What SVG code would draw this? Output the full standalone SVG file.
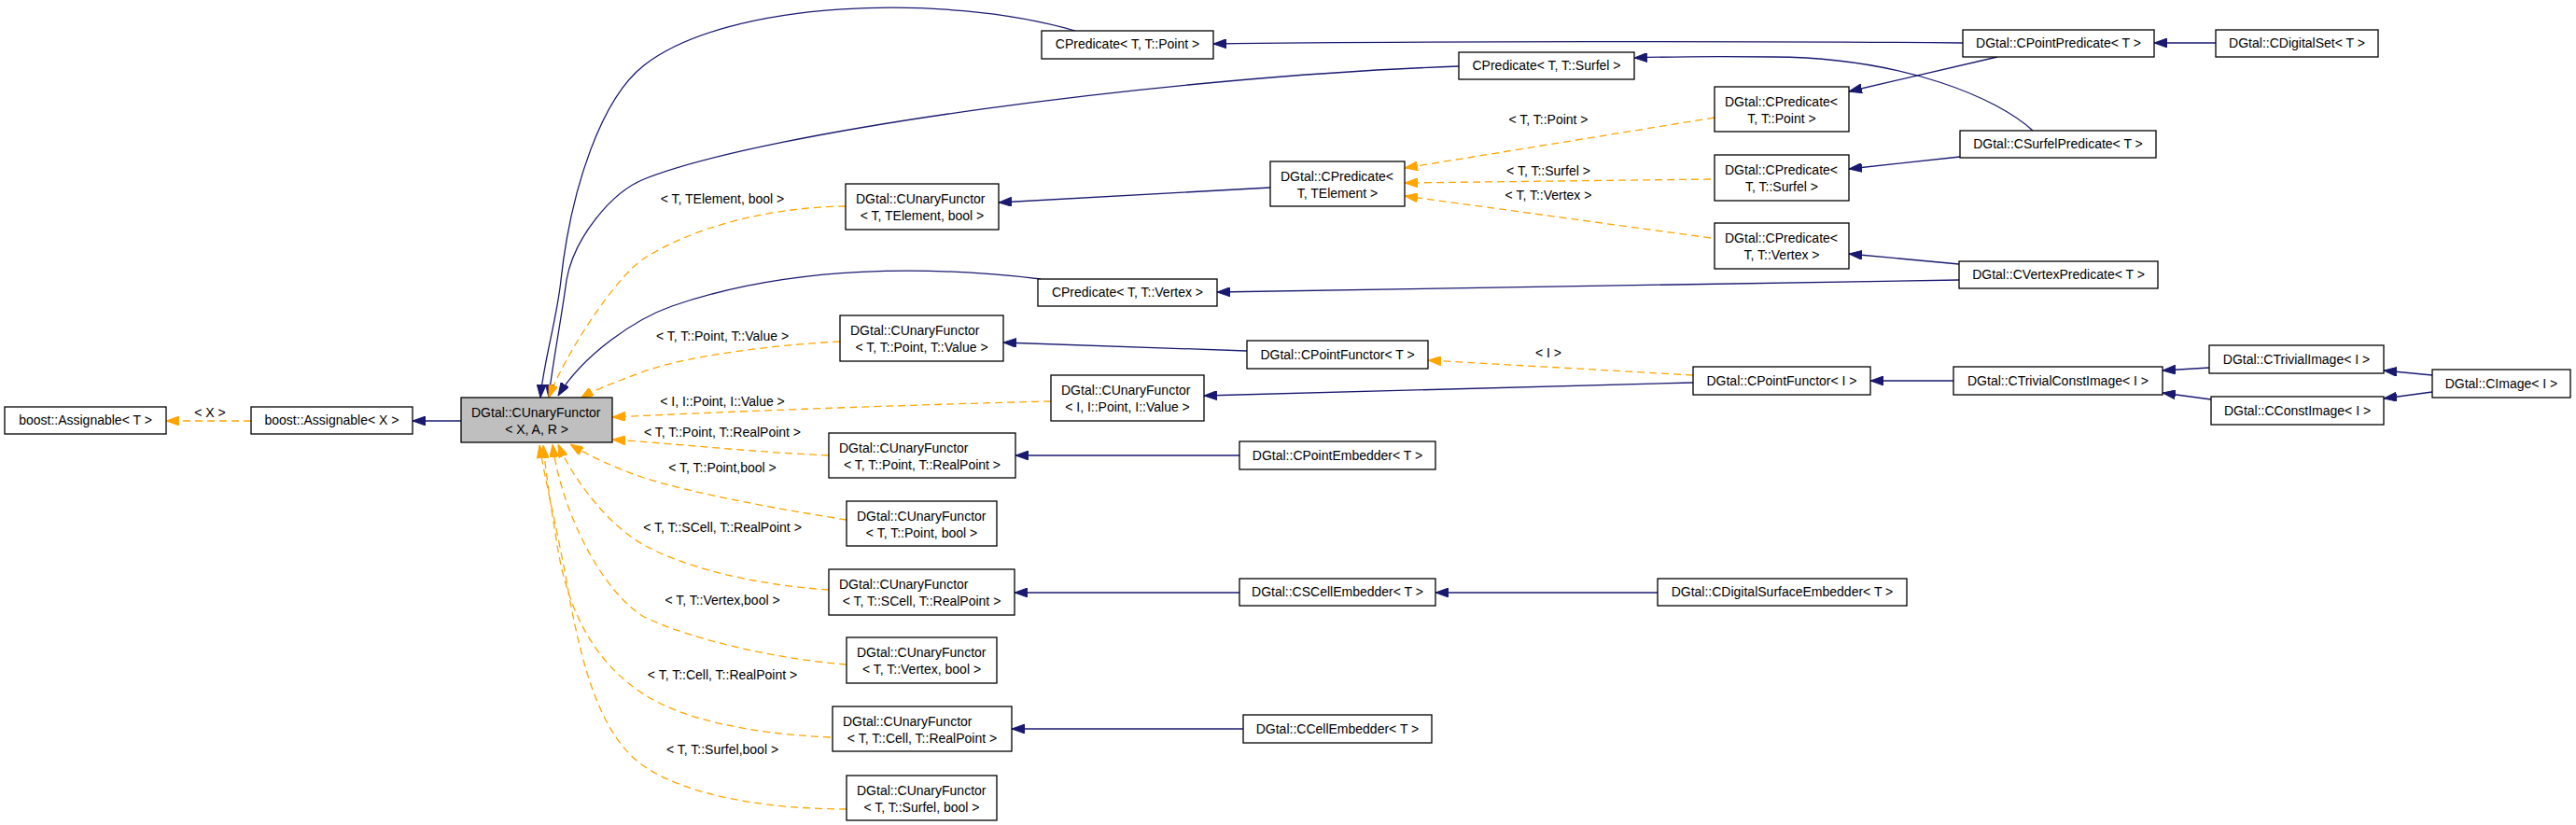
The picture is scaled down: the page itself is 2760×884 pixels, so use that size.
<svg xmlns="http://www.w3.org/2000/svg" width="2760" height="884" viewBox="0 0 2760 884">
<defs>
<style>
.n rect{fill:#fff;stroke:#000;stroke-width:1.3}
.n.g rect{fill:#bfbfbf}
text{font-family:"Liberation Sans",Arial,sans-serif;font-size:14px;fill:#000}
.c{text-anchor:middle}
.e path{fill:none;stroke:#191970;stroke-width:1.3}
.e path.b{marker-end:url(#ab)}
.e path.o{stroke:#ffa500;stroke-dasharray:8,5;marker-end:url(#ao)}
</style>
<marker id="ab" viewBox="0 0 14 10" refX="14" refY="5" markerWidth="14" markerHeight="10" markerUnits="userSpaceOnUse" orient="auto">
<path d="M0,0 L14,5 L0,10 z" fill="#191970" stroke="#191970" stroke-width="1"/>
</marker>
<marker id="ao" viewBox="0 0 14 10" refX="14" refY="5" markerWidth="14" markerHeight="10" markerUnits="userSpaceOnUse" orient="auto">
<path d="M0,0 L14,5 L0,10 z" fill="#ffa500" stroke="#ffa500" stroke-width="1"/>
</marker>
</defs>
<rect width="2760" height="884" fill="#fff"/>
<g id="edges" class="e">
<path class="o" d="M269,451 L178,451"/>
<path class="b" d="M494,451 L442,451"/>
<path class="b" d="M1152,33 C1010,-8 780,0 690,70 C645,105 612,200 601,300 C597,340 582,390 579,426"/>
<path class="b" d="M1563,71 C1250,82 820,140 690,192 C655,206 615,255 607,300 C601,345 591,395 588,426"/>
<path class="b" d="M1115,299 C1000,285 850,283 720,328 C680,342 625,380 598,424"/>
<path class="o" d="M906,221 C820,222 740,245 690,277 C660,296 605,380 588,426"/>
<path class="o" d="M900,366 C820,370 730,383 690,398 C660,409 636,418 622,427"/>
<path class="o" d="M1126,430 C1000,433 800,440 656,447"/>
<path class="o" d="M888,488 C800,484 720,475 656,471"/>
<path class="o" d="M907,557 C830,545 740,528 690,512 C660,502 630,488 611,476"/>
<path class="o" d="M888,632 C800,626 730,606 690,584 C650,562 612,510 598,476"/>
<path class="o" d="M907,712 C830,706 740,685 690,661 C640,630 600,540 592,476"/>
<path class="o" d="M890,790 C800,786 730,770 690,744 C640,712 610,660 598,590 C593,560 585,510 582,477"/>
<path class="o" d="M907,867 C830,867 740,855 690,821 C645,790 625,720 610,640 C600,580 585,520 578,477"/>
<path class="b" d="M1361,201 L1070,217"/>
<path class="o" d="M1837,126 L1505,180"/>
<path class="o" d="M1833,192 L1505,196"/>
<path class="o" d="M1833,255 L1505,210"/>
<path class="b" d="M2103,46 C1900,44 1500,44 1300,47"/>
<path class="b" d="M2140,61 L1981,98"/>
<path class="b" d="M2178,140 C2140,105 2040,62 1900,61 C1830,60 1780,61 1751,62"/>
<path class="b" d="M2100,168 L1981,181"/>
<path class="b" d="M2099,283 L1981,272"/>
<path class="b" d="M2099,300 L1304,313"/>
<path class="b" d="M1336,376 L1075,367"/>
<path class="o" d="M1814,402 L1530,386"/>
<path class="b" d="M1814,410 L1290,424"/>
<path class="b" d="M2093,408 L2004,408"/>
<path class="b" d="M2367,394 L2317,397"/>
<path class="b" d="M2369,428 L2317,421"/>
<path class="b" d="M2606,402 L2554,397"/>
<path class="b" d="M2606,420 L2554,427"/>
<path class="b" d="M1328,488 L1088,488"/>
<path class="b" d="M1328,635 L1087,635"/>
<path class="b" d="M1776,635 L1538,635"/>
<path class="b" d="M1332,781 L1084,781"/>
<path class="b" d="M2374,46 L2308,46"/>
<text class="c" x="225" y="447">&lt; X &gt;</text>
<text class="c" x="774" y="218">&lt; T, TElement, bool &gt;</text>
<text class="c" x="774" y="365">&lt; T, T::Point, T::Value &gt;</text>
<text class="c" x="774" y="435">&lt; I, I::Point, I::Value &gt;</text>
<text class="c" x="774" y="468">&lt; T, T::Point, T::RealPoint &gt;</text>
<text class="c" x="774" y="506">&lt; T, T::Point,bool &gt;</text>
<text class="c" x="774" y="570">&lt; T, T::SCell, T::RealPoint &gt;</text>
<text class="c" x="774" y="648">&lt; T, T::Vertex,bool &gt;</text>
<text class="c" x="774" y="728">&lt; T, T::Cell, T::RealPoint &gt;</text>
<text class="c" x="774" y="808">&lt; T, T::Surfel,bool &gt;</text>
<text class="c" x="1659" y="133">&lt; T, T::Point &gt;</text>
<text class="c" x="1659" y="188">&lt; T, T::Surfel &gt;</text>
<text class="c" x="1659" y="214">&lt; T, T::Vertex &gt;</text>
<text class="c" x="1659" y="383">&lt; I &gt;</text>
</g>
<g id="n_assignT" class="n"><rect x="5" y="436" width="173" height="29"/><text class="c" x="91.5" y="455">boost::Assignable&lt; T &gt;</text></g>
<g id="n_assignX" class="n"><rect x="269" y="436" width="173" height="29"/><text class="c" x="355.5" y="455">boost::Assignable&lt; X &gt;</text></g>
<g id="n_cuf" class="n g"><rect x="494" y="426" width="162" height="48"/><text x="505" y="447">DGtal::CUnaryFunctor</text><text class="c" x="575" y="465">&lt; X, A, R &gt;</text></g>
<g id="n_cpredPoint" class="n"><rect x="1116" y="33" width="184" height="30"/><text class="c" x="1208" y="52">CPredicate&lt; T, T::Point &gt;</text></g>
<g id="n_cpredSurfel" class="n"><rect x="1563" y="56" width="188" height="29"/><text class="c" x="1657" y="75">CPredicate&lt; T, T::Surfel &gt;</text></g>
<g id="n_cufTElem" class="n"><rect x="906" y="197" width="164" height="49"/><text x="917" y="218">DGtal::CUnaryFunctor</text><text class="c" x="988" y="236">&lt; T, TElement, bool &gt;</text></g>
<g id="n_dcpredTElem" class="n"><rect x="1361" y="173" width="144" height="48"/><text x="1372" y="194">DGtal::CPredicate&lt;</text><text class="c" x="1433" y="212">T, TElement &gt;</text></g>
<g id="n_dcpredPoint" class="n"><rect x="1837" y="93" width="144" height="48"/><text x="1848" y="114">DGtal::CPredicate&lt;</text><text class="c" x="1909" y="132">T, T::Point &gt;</text></g>
<g id="n_dcpredSurfel" class="n"><rect x="1837" y="166" width="144" height="49"/><text x="1848" y="187">DGtal::CPredicate&lt;</text><text class="c" x="1909" y="205">T, T::Surfel &gt;</text></g>
<g id="n_dcpredVertex" class="n"><rect x="1837" y="239" width="144" height="49"/><text x="1848" y="260">DGtal::CPredicate&lt;</text><text class="c" x="1909" y="278">T, T::Vertex &gt;</text></g>
<g id="n_cpointpred" class="n"><rect x="2103" y="32" width="205" height="29"/><text class="c" x="2205.5" y="51">DGtal::CPointPredicate&lt; T &gt;</text></g>
<g id="n_cdigitalset" class="n"><rect x="2374" y="32" width="174" height="29"/><text class="c" x="2461" y="51">DGtal::CDigitalSet&lt; T &gt;</text></g>
<g id="n_csurfelpred" class="n"><rect x="2100" y="140" width="210" height="29"/><text class="c" x="2205" y="159">DGtal::CSurfelPredicate&lt; T &gt;</text></g>
<g id="n_cvertexpred" class="n"><rect x="2099" y="280" width="213" height="29"/><text class="c" x="2205.5" y="299">DGtal::CVertexPredicate&lt; T &gt;</text></g>
<g id="n_cpredVertex" class="n"><rect x="1112" y="299" width="192" height="29"/><text class="c" x="1208" y="318">CPredicate&lt; T, T::Vertex &gt;</text></g>
<g id="n_cufPV" class="n"><rect x="900" y="338" width="175" height="49"/><text x="911" y="359">DGtal::CUnaryFunctor</text><text class="c" x="987.5" y="377">&lt; T, T::Point, T::Value &gt;</text></g>
<g id="n_cufIPV" class="n"><rect x="1126" y="402" width="164" height="49"/><text x="1137" y="423">DGtal::CUnaryFunctor</text><text class="c" x="1208" y="441">&lt; I, I::Point, I::Value &gt;</text></g>
<g id="n_cufPRP" class="n"><rect x="888" y="464" width="200" height="48"/><text x="899" y="485">DGtal::CUnaryFunctor</text><text class="c" x="988" y="503">&lt; T, T::Point, T::RealPoint &gt;</text></g>
<g id="n_cufPB" class="n"><rect x="907" y="537" width="161" height="48"/><text x="918" y="558">DGtal::CUnaryFunctor</text><text class="c" x="987.5" y="576">&lt; T, T::Point, bool &gt;</text></g>
<g id="n_cpointfunctorT" class="n"><rect x="1336" y="365" width="194" height="30"/><text class="c" x="1433" y="385">DGtal::CPointFunctor&lt; T &gt;</text></g>
<g id="n_cpointembedder" class="n"><rect x="1328" y="473" width="210" height="30"/><text class="c" x="1433" y="493">DGtal::CPointEmbedder&lt; T &gt;</text></g>
<g id="n_cpointfunctorI" class="n"><rect x="1814" y="393" width="190" height="30"/><text class="c" x="1909" y="413">DGtal::CPointFunctor&lt; I &gt;</text></g>
<g id="n_ctrivialconst" class="n"><rect x="2093" y="393" width="224" height="30"/><text class="c" x="2205" y="413">DGtal::CTrivialConstImage&lt; I &gt;</text></g>
<g id="n_ctrivialimage" class="n"><rect x="2367" y="370" width="187" height="30"/><text class="c" x="2460.5" y="390">DGtal::CTrivialImage&lt; I &gt;</text></g>
<g id="n_cconstimage" class="n"><rect x="2369" y="425" width="185" height="30"/><text class="c" x="2461.5" y="445">DGtal::CConstImage&lt; I &gt;</text></g>
<g id="n_cimage" class="n"><rect x="2606" y="396" width="148" height="30"/><text class="c" x="2680" y="416">DGtal::CImage&lt; I &gt;</text></g>
<g id="n_cufSCell" class="n"><rect x="888" y="610" width="199" height="49"/><text x="899" y="631">DGtal::CUnaryFunctor</text><text class="c" x="987.5" y="649">&lt; T, T::SCell, T::RealPoint &gt;</text></g>
<g id="n_cufVB" class="n"><rect x="907" y="683" width="161" height="49"/><text x="918" y="704">DGtal::CUnaryFunctor</text><text class="c" x="987.5" y="722">&lt; T, T::Vertex, bool &gt;</text></g>
<g id="n_cufCell" class="n"><rect x="892" y="757" width="192" height="48"/><text x="903" y="778">DGtal::CUnaryFunctor</text><text class="c" x="988" y="796">&lt; T, T::Cell, T::RealPoint &gt;</text></g>
<g id="n_cufSB" class="n"><rect x="907" y="831" width="161" height="48"/><text x="918" y="852">DGtal::CUnaryFunctor</text><text class="c" x="987.5" y="870">&lt; T, T::Surfel, bool &gt;</text></g>
<g id="n_cscellembedder" class="n"><rect x="1328" y="620" width="210" height="29"/><text class="c" x="1433" y="639">DGtal::CSCellEmbedder&lt; T &gt;</text></g>
<g id="n_cdigsurfemb" class="n"><rect x="1776" y="620" width="267" height="29"/><text class="c" x="1909.5" y="639">DGtal::CDigitalSurfaceEmbedder&lt; T &gt;</text></g>
<g id="n_ccellembedder" class="n"><rect x="1332" y="766" width="202" height="30"/><text class="c" x="1433" y="786">DGtal::CCellEmbedder&lt; T &gt;</text></g>
</svg>
